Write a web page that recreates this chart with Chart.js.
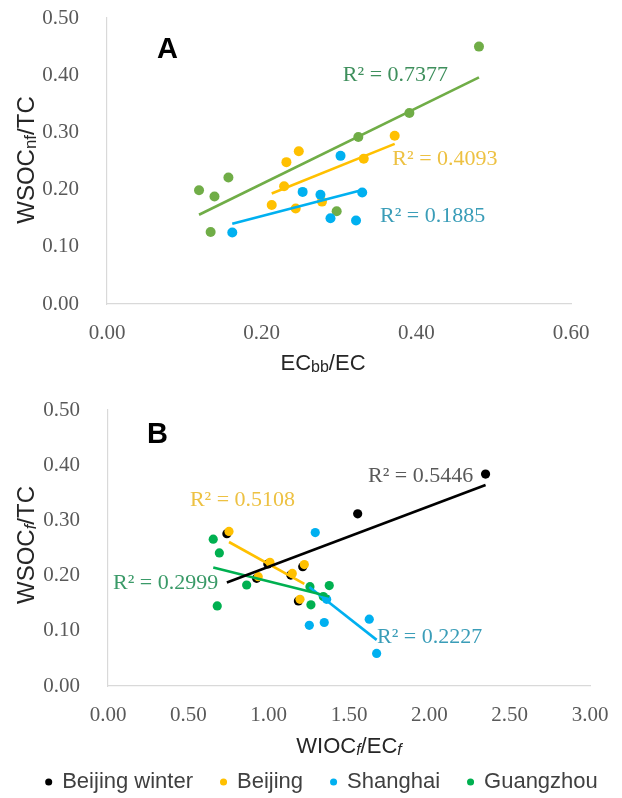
<!DOCTYPE html>
<html>
<head>
<meta charset="utf-8">
<script src="https://cdn.jsdelivr.net/npm/chart.js@4.4.1/dist/chart.umd.min.js"></script>
<style>
  html, body { margin: 0; padding: 0; background: #fff; }
  #wrapA { position: absolute; left: 0; top: 0; width: 622px; height: 390px; }
  #wrapB { position: absolute; left: 0; top: 390px; width: 622px; height: 408px; }
</style>
</head>
<body>
<div id="wrapA"><canvas id="chartA"></canvas></div>
<div id="wrapB"><canvas id="chartB"></canvas></div>
<script>
// panel A : ECbb/EC vs WSOCnf/TC
const aBeijingX   = [0.213, 0.229, 0.232, 0.244, 0.248, 0.278, 0.332, 0.372];
const aBeijingY   = [0.173, 0.206, 0.248, 0.167, 0.267, 0.179, 0.254, 0.294];
const aShanghaiX  = [0.162, 0.253, 0.276, 0.289, 0.302, 0.322, 0.330];
const aShanghaiY  = [0.125, 0.196, 0.191, 0.150, 0.259, 0.146, 0.195];
const aGuangzhouX = [0.119, 0.134, 0.139, 0.157, 0.297, 0.325, 0.391, 0.481];
const aGuangzhouY = [0.199, 0.126, 0.188, 0.221, 0.162, 0.292, 0.334, 0.450];

// panel B : WIOCf/ECf vs WSOCf/TC
const bWinterX    = [0.740, 0.925, 0.995, 1.138, 1.185, 1.212, 1.554, 2.350];
const bWinterY    = [0.276, 0.195, 0.221, 0.201, 0.154, 0.216, 0.312, 0.384];
const bBeijingX   = [0.753, 0.935, 1.008, 1.147, 1.195, 1.222];
const bBeijingY   = [0.280, 0.198, 0.224, 0.204, 0.157, 0.220];
const bShanghaiX  = [1.253, 1.290, 1.346, 1.361, 1.626, 1.672];
const bShanghaiY  = [0.110, 0.278, 0.115, 0.157, 0.121, 0.059];
const bGuangzhouX = [0.655, 0.680, 0.693, 0.863, 1.257, 1.263, 1.340, 1.377];
const bGuangzhouY = [0.266, 0.145, 0.241, 0.183, 0.180, 0.147, 0.162, 0.182];

const seriesNames = ["Beijing winter", "Beijing", "Shanghai", "Guangzhou"];
const r2A = ["R² = 0.7377", "R² = 0.4093", "R² = 0.1885"];
const r2B = ["R² = 0.5446", "R² = 0.5108", "R² = 0.2999", "R² = 0.2227"];
const ticksAX = [0, 0.6, 0.2];
const ticksBX = [0, 3, 0.5];
const ticksY  = [0, 0.5, 0.1];

const BLACK = "#000000", YELLOW = "#FFC000", BLUE = "#00B0F0";
const OLIVE = "#70AD47", GREEN = "#00B050";
const SANS = '"Liberation Sans", Arial, sans-serif';
const SERIF = '"Liberation Serif", "Times New Roman", serif';

function pts(xs, ys) {
    return xs.map((x, i) => ({ x: x, y: ys[i] }));
}

// least squares line between the smallest and largest x, like an Excel trendline
function trend(xs, ys) {
    const n = xs.length;
    const mx = xs.reduce((a, b) => a + b, 0) / n;
    const my = ys.reduce((a, b) => a + b, 0) / n;
    let sxy = 0, sxx = 0;
    for (let i = 0; i < n; i++) {
        sxy += (xs[i] - mx) * (ys[i] - my);
        sxx += (xs[i] - mx) * (xs[i] - mx);
    }
    const k = sxy / sxx;
    const lo = Math.min(...xs), hi = Math.max(...xs);
    return [{ x: lo, y: my + k * (lo - mx) }, { x: hi, y: my + k * (hi - mx) }];
}

function dots(label, xs, ys, color, r) {
    return { type: "scatter", label: label, data: pts(xs, ys), backgroundColor: color,
             borderColor: color, borderWidth: 0, pointRadius: r, pointHoverRadius: r };
}

function line(xs, ys, color) {
    return { type: "line", label: "", data: trend(xs, ys), borderColor: color, borderWidth: 2.6,
             pointRadius: 0, fill: false, showLine: true };
}

function axis(range, fitSize, isX, pad, rightGap) {
    return {
        type: "linear", min: range[0], max: range[1],
        ticks: { stepSize: range[2], padding: pad, color: "#595959",
                 font: { family: SERIF, size: 21 },
                 callback: v => Number(v).toFixed(2) },
        grid: { display: false },
        border: { display: true, color: "#d9d9d9", width: 1.2 },
        afterFit: s => {
            if (isX) {
                s.height = fitSize(s);
                s.paddingRight = rightGap;
            } else {
                s.width = fitSize(s);
                // let layout.padding alone decide where the plot starts
                s.paddingTop = 0;
                s.paddingBottom = 0;
            }
        }
    };
}

// text with small / italic pieces, centred on x,y
function drawRich(ctx, parts, x, y, size, color, rotate) {
    const fontOf = p => (p.i ? "italic " : "") + (p.s ? Math.round(size * 0.72) : size) + "px " + SANS;
    let total = 0;
    parts.forEach(p => { ctx.font = fontOf(p); total += ctx.measureText(p.t).width; });
    ctx.save();
    ctx.translate(x, y);
    if (rotate) ctx.rotate(-Math.PI / 2);
    ctx.fillStyle = color;
    ctx.textAlign = "left";
    ctx.textBaseline = "alphabetic";
    let cx = -total / 2;
    parts.forEach(p => {
        ctx.font = fontOf(p);
        ctx.fillText(p.t, cx, size * 0.36 + (p.s ? size * 0.08 : 0));
        cx += ctx.measureText(p.t).width;
    });
    ctx.restore();
}

function textPlugin(cfg) {
    return {
        id: "texts" + cfg.letter,
        afterLayout(chart) {
            // Excel puts the legend row a little lower and to the right
            if (cfg.legendShift && chart.legend) {
                chart.legend.top += cfg.legendShift[1];
                chart.legend.bottom += cfg.legendShift[1];
                chart.legend.left += cfg.legendShift[0];
                chart.legend.right += cfg.legendShift[0];
            }
        },
        afterDatasetsDraw(chart) {
            const ctx = chart.ctx, xs = chart.scales.x, ys = chart.scales.y;
            ctx.save();
            ctx.font = "bold 29px " + SANS;
            ctx.fillStyle = "#000";
            ctx.textBaseline = "alphabetic";
            ctx.textAlign = "left";
            ctx.fillText(cfg.letter, cfg.letterPos[0], cfg.letterPos[1]);
            ctx.font = "22px " + SERIF;
            ctx.textBaseline = "middle";
            cfg.labels.forEach(l => {
                ctx.fillStyle = l.color;
                ctx.fillText(l.text, xs.getPixelForValue(l.x), ys.getPixelForValue(l.y));
            });
            ctx.restore();
            drawRich(ctx, cfg.xTitle, cfg.xTitlePos[0], cfg.xTitlePos[1], 22, "#262626", false);
            drawRich(ctx, cfg.yTitle, cfg.yTitlePos[0], cfg.yTitlePos[1], 24, "#262626", true);
        }
    };
}

new Chart("chartA", {
    data: {
        datasets: [
            line(aGuangzhouX, aGuangzhouY, OLIVE),
            line(aBeijingX, aBeijingY, YELLOW),
            line(aShanghaiX, aShanghaiY, BLUE),
            dots(seriesNames[2], aShanghaiX, aShanghaiY, BLUE, 5),
            dots(seriesNames[1], aBeijingX, aBeijingY, YELLOW, 5),
            dots(seriesNames[3], aGuangzhouX, aGuangzhouY, OLIVE, 5)
        ]
    },
    options: {
        responsive: true, maintainAspectRatio: false, animation: false,
        layout: { padding: { left: 0, right: 0, top: 18, bottom: 0 } },
        plugins: { legend: { display: false }, tooltip: { enabled: false } },
        scales: {
            x: axis(ticksAX, s => s.chart.height - 304, true, 9, 51),
            y: axis(ticksY, s => 107, false, 20)
        }
    },
    plugins: [textPlugin({
        letter: "A", letterPos: [157, 58],
        labels: [
            { text: r2A[0], x: 0.305, y: 0.400, color: "#3E8F5C" },
            { text: r2A[1], x: 0.369, y: 0.2535, color: "#EDC142" },
            { text: r2A[2], x: 0.353, y: 0.154, color: "#3A9DB8" }
        ],
        xTitle: [{ t: "EC" }, { t: "bb", s: true }, { t: "/EC" }], xTitlePos: [323, 362],
        yTitle: [{ t: "WSOC" }, { t: "nf", s: true }, { t: "/TC" }], yTitlePos: [25, 160]
    })]
});

const rank = { "Beijing winter": 0, "Beijing": 1, "Shanghai": 2, "Guangzhou": 3 };

new Chart("chartB", {
    data: {
        datasets: [
            line(bWinterX, bWinterY, BLACK),
            line(bBeijingX, bBeijingY, YELLOW),
            line(bGuangzhouX, bGuangzhouY, GREEN),
            line(bShanghaiX, bShanghaiY, BLUE),
            dots(seriesNames[2], bShanghaiX, bShanghaiY, BLUE, 4.6),
            dots(seriesNames[1], bBeijingX, bBeijingY, YELLOW, 4.6),
            dots(seriesNames[3], bGuangzhouX, bGuangzhouY, GREEN, 4.6),
            dots(seriesNames[0], bWinterX, bWinterY, BLACK, 4.6)
        ]
    },
    options: {
        responsive: true, maintainAspectRatio: false, animation: false,
        layout: { padding: { left: 0, right: 0, top: 20, bottom: 0 } },
        plugins: {
            tooltip: { enabled: false },
            legend: {
                position: "bottom",
                labels: {
                    usePointStyle: true, pointStyle: "circle", boxWidth: 5, boxHeight: 5,
                    padding: 28, color: "#404040", font: { family: SANS, size: 22 },
                    filter: item => item.text !== "",
                    sort: (a, b) => rank[a.text] - rank[b.text]
                }
            }
        },
        scales: {
            x: axis(ticksBX, s => s.chart.height - 296 - (s.chart.legend ? s.chart.legend.height : 0), true, 9, 32),
            y: axis(ticksY, s => 108, false, 20)
        }
    },
    plugins: [textPlugin({
        letter: "B", letterPos: [147, 53], legendShift: [11, 5],
        labels: [
            { text: r2B[0], x: 1.618, y: 0.380, color: "#595959" },
            { text: r2B[1], x: 0.510, y: 0.337, color: "#EDC142" },
            { text: r2B[2], x: 0.031, y: 0.187, color: "#3A9A68" },
            { text: r2B[3], x: 1.674, y: 0.089, color: "#3A9DB8" }
        ],
        xTitle: [{ t: "WIOC" }, { t: "f", s: true, i: true }, { t: "/EC" }, { t: "f", s: true, i: true }],
        xTitlePos: [349, 355],
        yTitle: [{ t: "WSOC" }, { t: "f", s: true, i: true }, { t: "/TC" }], yTitlePos: [25, 155]
    })]
});
</script>
</body>
</html>
